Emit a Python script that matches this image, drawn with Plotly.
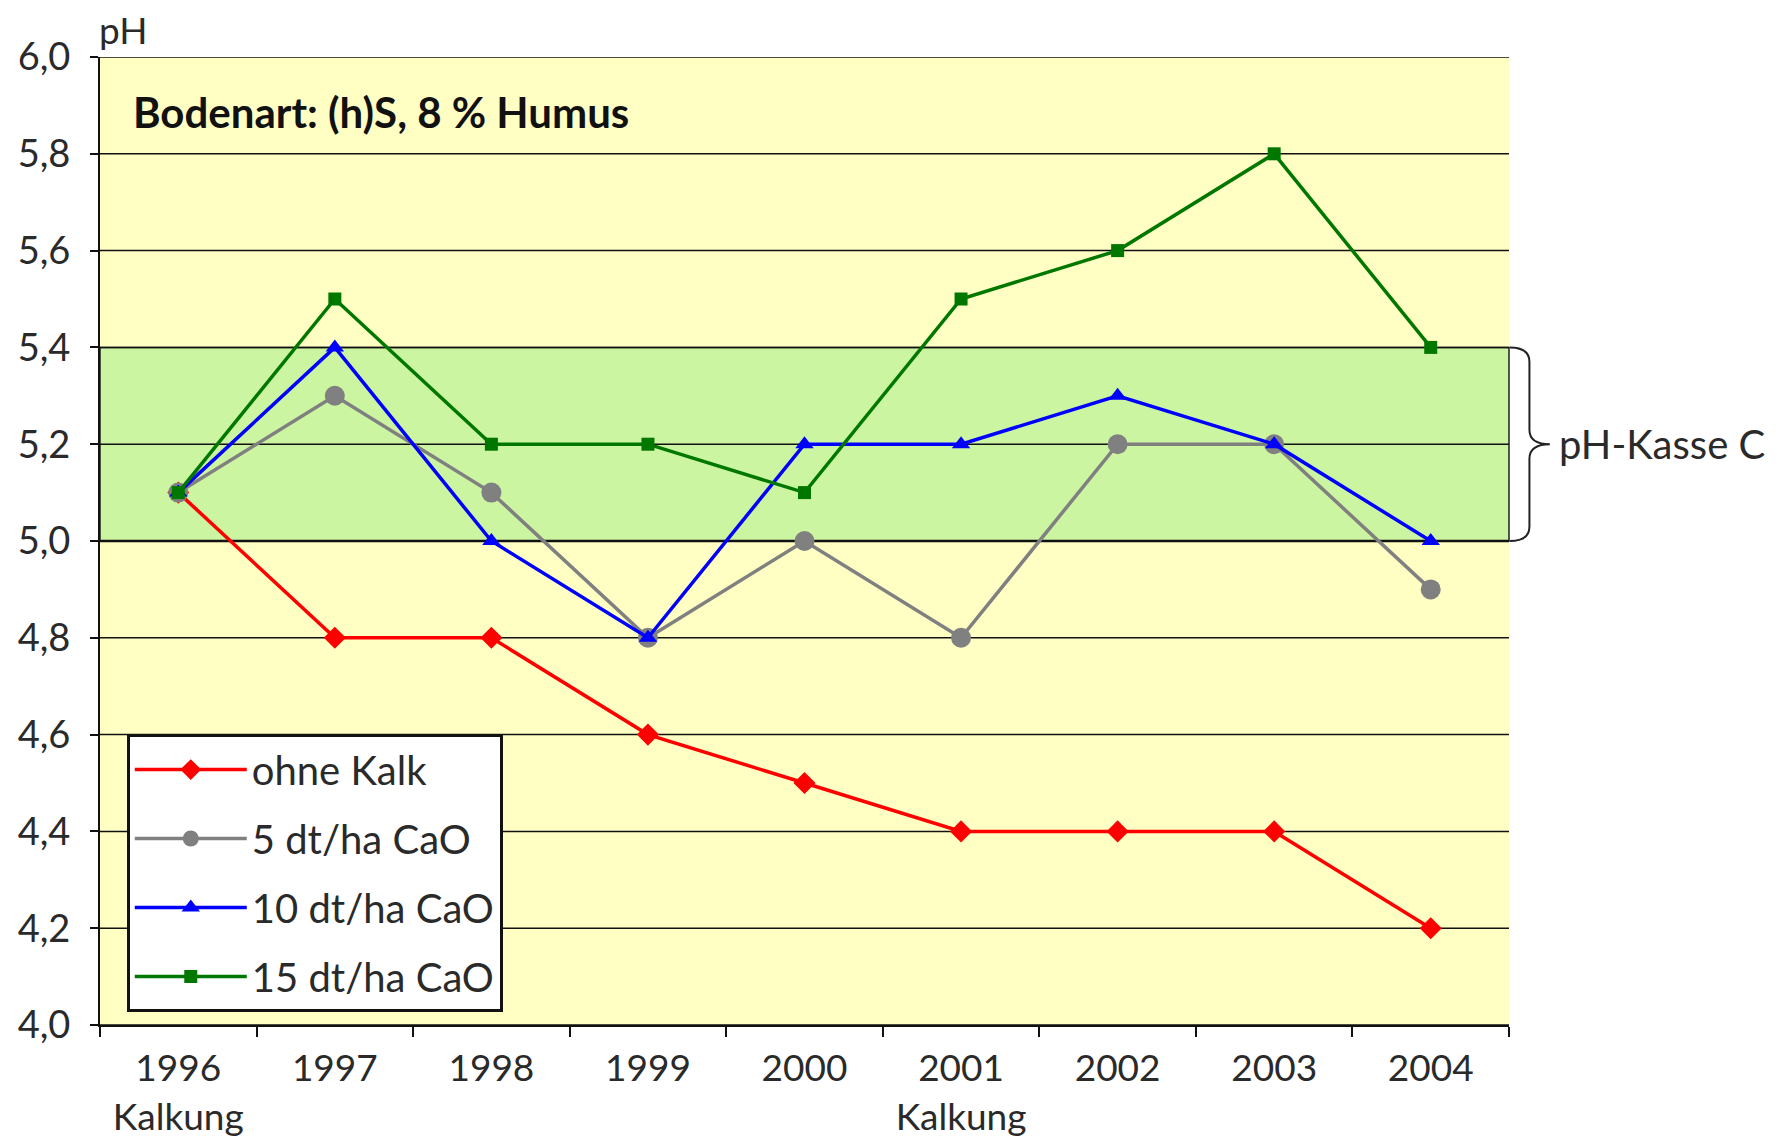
import plotly.graph_objects as go

years = ["1996", "1997", "1998", "1999", "2000", "2001", "2002", "2003", "2004"]
year_labels = ["1996<br>Kalkung", "1997", "1998", "1999", "2000", "2001<br>Kalkung", "2002", "2003", "2004"]
ohne_kalk = [5.1, 4.8, 4.8, 4.6, 4.5, 4.4, 4.4, 4.4, 4.2]
cao_5 = [5.1, 5.3, 5.1, 4.8, 5.0, 4.8, 5.2, 5.2, 4.9]
cao_10 = [5.1, 5.4, 5.0, 4.8, 5.2, 5.2, 5.3, 5.2, 5.0]
cao_15 = [5.1, 5.5, 5.2, 5.2, 5.1, 5.5, 5.6, 5.8, 5.4]
band_low, band_high = 5.0, 5.4
y_ticks = [4.0, 4.2, 4.4, 4.6, 4.8, 5.0, 5.2, 5.4, 5.6, 5.8, 6.0]

FONT = "Lato"
TXT = "#2a2a2a"
series = [
    ("ohne Kalk", ohne_kalk, "#ff0000", "diamond", 17),
    ("5 dt/ha CaO", cao_5, "#808080", "circle", 20),
    ("10 dt/ha CaO", cao_10, "#0000ff", "triangle-up", 16),
    ("15 dt/ha CaO", cao_15, "#007800", "square", 13),
]

fig = go.Figure()
for i, (name, vals, col, sym, sz) in enumerate(series):
    fig.add_trace(go.Scatter(
        x=years, y=vals, name=name, mode="lines+markers",
        line=dict(color=col, width=3.5),
        marker=dict(color=col, symbol=sym, size=sz),
        legendgroup=f"g{i}",
    ))

# pH class C band
fig.add_shape(type="rect", xref="paper", yref="y", x0=0, x1=1, y0=band_low, y1=band_high,
              fillcolor="#ccf5a2", line=dict(color="#222", width=1.5), layer="below")
# gridlines drawn above band
for t in y_ticks:
    fig.add_shape(type="line", xref="paper", yref="y", x0=0, x1=1, y0=t, y1=t,
                  line=dict(color="#111", width=1.5 if t != band_low else 2.5), layer="below")

# brace
xa, xb, xc = 1.0005, 1.0145, 1.029
ym = (band_low + band_high) / 2
path = (f"M {xa},{band_high} Q {xb},{band_high} {xb},{band_high-0.03} "
        f"L {xb},{ym+0.03} Q {xb},{ym} {xc},{ym} "
        f"Q {xb},{ym} {xb},{ym-0.03} "
        f"L {xb},{band_low+0.03} Q {xb},{band_low} {xa},{band_low}")
fig.add_shape(type="path", xref="paper", yref="y", path=path,
              line=dict(color="#222", width=2))

fig.add_annotation(xref="paper", yref="y", x=1.034, y=ym, text="pH-Kasse C",
                   showarrow=False, xanchor="left", yanchor="middle",
                   font=dict(family=FONT, size=40, color=TXT))
fig.add_annotation(xref="paper", yref="paper", x=0.022, y=0.943, text="<b>Bodenart: (h)S, 8 % Humus</b>",
                   showarrow=False, xanchor="left", yanchor="middle",
                   font=dict(family=FONT, size=42, color="#111"))
fig.add_annotation(xref="paper", yref="paper", x=-0.002, y=1.0, text="pH",
                   showarrow=False, xanchor="left", yanchor="bottom", yshift=3,
                   font=dict(family=FONT, size=37, color=TXT))

fig.update_layout(
    width=1774, height=1129,
    margin=dict(l=92, r=273, t=49, b=112, autoexpand=False),
    paper_bgcolor="white",
    plot_bgcolor="#ffffc4",
    separators=",.",
    font=dict(family=FONT, size=37, color=TXT),
    showlegend=True,
    legend=dict(x=0.019, y=0.0134, xanchor="left", yanchor="bottom",
                bgcolor="white", bordercolor="#111", borderwidth=3,
                font=dict(family=FONT, size=40, color=TXT),
                tracegroupgap=14, itemwidth=112),
)
fig.update_xaxes(
    type="category", tickmode="array", tickvals=years, ticktext=year_labels,
    range=[-0.5, 8.5], showgrid=False, showline=True, linecolor="#111", linewidth=2,
    ticks="outside", tickson="boundaries", ticklen=10, tickcolor="#111", tickwidth=1.5,
    ticklabelstandoff=10, automargin=False,
    tickfont=dict(family=FONT, size=37, color=TXT), zeroline=False,
)
fig.update_yaxes(
    range=[4.0, 6.0], tickvals=y_ticks, tickformat=".1f", showgrid=False,
    showline=True, linecolor="#111", linewidth=2, ticks="outside", ticklen=8,
    tickcolor="#111", tickwidth=1.5, zeroline=False, ticklabelstandoff=12,
    automargin=False,
    tickfont=dict(family=FONT, size=38, color=TXT),
)

fig.write_html("out.html")
